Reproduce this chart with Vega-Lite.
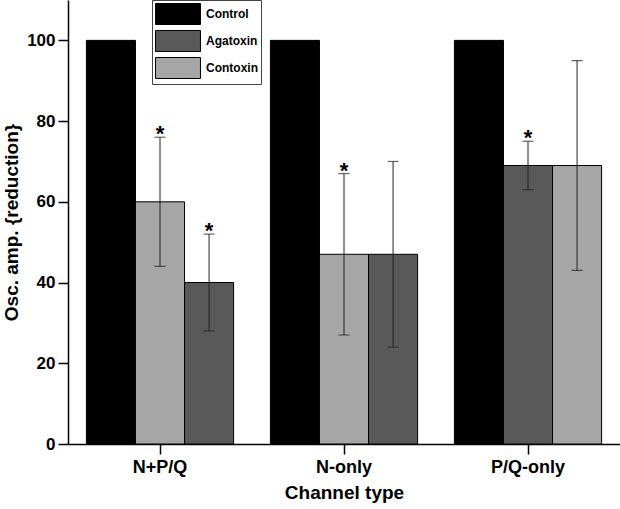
{
  "$schema": "https://vega.github.io/schema/vega-lite/v6.json",
  "width": 552,
  "height": 444,
  "autosize": {"type": "none"},
  "padding": {"left": 68, "top": 0, "right": 0, "bottom": 65},
  "background": "white",
  "config": {
    "view": {"stroke": null},
    "font": "Liberation Sans",
    "axis": {"domainColor": "black", "tickColor": "black", "domainWidth": 1.5, "tickWidth": 1.5, "labelColor": "black", "titleColor": "black", "grid": false}
  },
  "data": {
    "values": [
      {"group": "N+P/Q", "treatment": "Control", "order": 1, "value": 100, "lo": null, "hi": null, "sig": false},
      {"group": "N+P/Q", "treatment": "Contoxin", "order": 2, "value": 60, "lo": 44, "hi": 76, "sig": true},
      {"group": "N+P/Q", "treatment": "Agatoxin", "order": 3, "value": 40, "lo": 28, "hi": 52, "sig": true},
      {"group": "N-only", "treatment": "Control", "order": 1, "value": 100, "lo": null, "hi": null, "sig": false},
      {"group": "N-only", "treatment": "Contoxin", "order": 2, "value": 47, "lo": 27, "hi": 67, "sig": true},
      {"group": "N-only", "treatment": "Agatoxin", "order": 3, "value": 47, "lo": 24, "hi": 70, "sig": false},
      {"group": "P/Q-only", "treatment": "Control", "order": 1, "value": 100, "lo": null, "hi": null, "sig": false},
      {"group": "P/Q-only", "treatment": "Agatoxin", "order": 2, "value": 69, "lo": 63, "hi": 75, "sig": true},
      {"group": "P/Q-only", "treatment": "Contoxin", "order": 3, "value": 69, "lo": 43, "hi": 95, "sig": false}
    ]
  },
  "encoding": {
    "x": {
      "field": "group", "type": "nominal", "sort": ["N+P/Q", "N-only", "P/Q-only"],
      "scale": {"paddingInner": 0.2, "paddingOuter": 0.1},
      "axis": {"title": "Channel type", "labelAngle": 0, "labelFontSize": 18, "labelFontWeight": "bold", "titleFontSize": 19, "titleFontWeight": "bold", "tickSize": 10, "labelPadding": 4, "titlePadding": 7}
    },
    "xOffset": {"field": "order", "type": "ordinal", "scale": {"paddingInner": 0, "paddingOuter": 0}}
  },
  "layer": [
    {
      "mark": {"type": "bar", "stroke": "black", "strokeWidth": 1, "opacity": 1},
      "encoding": {
        "y": {
          "field": "value", "type": "quantitative",
          "scale": {"domain": [0, 110], "nice": false},
          "axis": {"title": "Osc. amp. {reduction}", "values": [0, 20, 40, 60, 80, 100], "labelFontSize": 17, "labelFontWeight": "bold", "titleFontSize": 19, "titleFontWeight": "bold", "tickSize": 10, "labelPadding": 3, "titlePadding": 5}
        },
        "color": {
          "field": "treatment", "type": "nominal",
          "scale": {"domain": ["Control", "Agatoxin", "Contoxin"], "range": ["#000000", "#595959", "#a6a6a6"]},
          "legend": {
            "title": null, "orient": "none", "legendX": 84, "legendY": 0,
            "symbolType": "M-2.14,-1H2.14V1H-2.14Z", "symbolSize": 441,
            "symbolStrokeColor": "black", "symbolStrokeWidth": 1, "symbolOpacity": 1,
            "symbolOffset": 12,
            "labelFontSize": 12, "labelFontWeight": "bold", "labelColor": "black",
            "labelOffset": 17, "rowPadding": 1, "padding": 3,
            "strokeColor": "#444", "fillColor": "white"
          }
        }
      }
    },
    {
      "transform": [{"filter": "datum.lo != null"}],
      "mark": {"type": "rule", "color": "#222", "strokeWidth": 1},
      "encoding": {
        "y": {"field": "lo", "type": "quantitative"},
        "y2": {"field": "hi"}
      }
    },
    {
      "transform": [{"filter": "datum.lo != null"}],
      "mark": {"type": "tick", "color": "#222", "size": 11, "thickness": 1.2},
      "encoding": {"y": {"field": "lo", "type": "quantitative"}}
    },
    {
      "transform": [{"filter": "datum.lo != null"}],
      "mark": {"type": "tick", "color": "#222", "size": 11, "thickness": 1.2},
      "encoding": {"y": {"field": "hi", "type": "quantitative"}}
    },
    {
      "transform": [{"filter": "datum.sig"}],
      "mark": {"type": "text", "text": "*", "fontSize": 22, "fontWeight": "bold", "color": "black", "baseline": "middle", "dy": -3},
      "encoding": {"y": {"field": "hi", "type": "quantitative"}}
    }
  ]
}
